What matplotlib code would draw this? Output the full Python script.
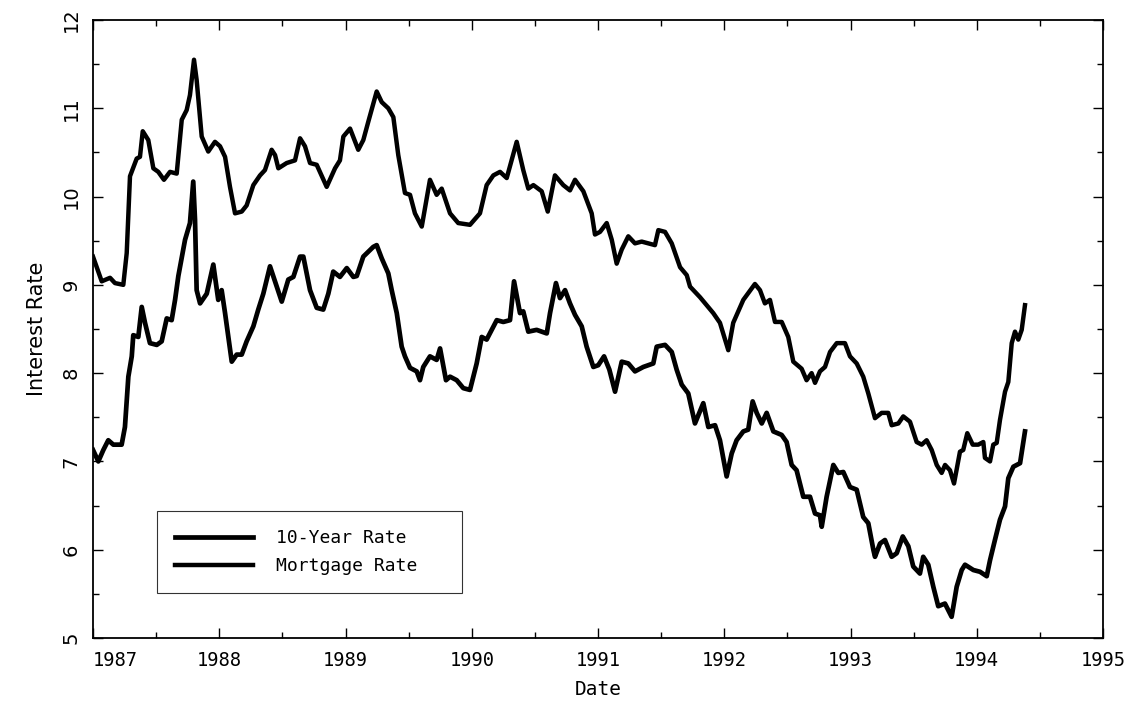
import matplotlib.pyplot as plt
from matplotlib.ticker import MultipleLocator

# weekly rates read as decimal years
tsy_date = [1987.000, 1987.042, 1987.082, 1987.121, 1987.161, 1987.227, 1987.253, 1987.280,
            1987.307, 1987.319, 1987.359, 1987.386, 1987.412, 1987.451, 1987.505, 1987.544,
            1987.584, 1987.623, 1987.650, 1987.676, 1987.729, 1987.768, 1987.794, 1987.808,
            1987.821, 1987.848, 1987.901, 1987.953, 1987.992, 1988.019, 1988.046, 1988.072,
            1988.099, 1988.138, 1988.178, 1988.217, 1988.270, 1988.309, 1988.349, 1988.402,
            1988.455, 1988.495, 1988.547, 1988.587, 1988.640, 1988.666, 1988.719, 1988.772,
            1988.824, 1988.864, 1988.903, 1988.956, 1989.010, 1989.062, 1989.089, 1989.141,
            1989.220, 1989.247, 1989.287, 1989.339, 1989.366, 1989.406, 1989.445, 1989.471,
            1989.511, 1989.564, 1989.590, 1989.616, 1989.669, 1989.722, 1989.749, 1989.796,
            1989.828, 1989.881, 1989.933, 1989.986, 1990.039, 1990.079, 1990.118, 1990.198,
            1990.250, 1990.303, 1990.335, 1990.382, 1990.408, 1990.448, 1990.514, 1990.594,
            1990.620, 1990.667, 1990.699, 1990.739, 1990.778, 1990.818, 1990.871, 1990.910,
            1990.963, 1991.002, 1991.048, 1991.090, 1991.135, 1991.188, 1991.240, 1991.293,
            1991.359, 1991.438, 1991.465, 1991.531, 1991.584, 1991.623, 1991.663, 1991.715,
            1991.768, 1991.834, 1991.874, 1991.927, 1991.966, 1992.019, 1992.059, 1992.098,
            1992.151, 1992.190, 1992.225, 1992.257, 1992.297, 1992.336, 1992.389, 1992.455,
            1992.494, 1992.534, 1992.573, 1992.626, 1992.679, 1992.719, 1992.758, 1992.772,
            1992.811, 1992.864, 1992.903, 1992.943, 1992.996, 1993.049, 1993.101, 1993.141,
            1993.181, 1993.194, 1993.234, 1993.273, 1993.326, 1993.366, 1993.414, 1993.458,
            1993.497, 1993.550, 1993.576, 1993.616, 1993.656, 1993.695, 1993.748, 1993.801,
            1993.841, 1993.881, 1993.907, 1993.973, 1994.026, 1994.079, 1994.105, 1994.144,
            1994.184, 1994.224, 1994.250, 1994.290, 1994.343, 1994.382]
tsy_rate = [7.13, 7.00, 7.13, 7.24, 7.19, 7.19, 7.39, 7.96,
            8.19, 8.43, 8.41, 8.75, 8.57, 8.34, 8.32, 8.36,
            8.62, 8.60, 8.83, 9.10, 9.51, 9.70, 10.17, 9.74,
            8.94, 8.79, 8.90, 9.23, 8.83, 8.94, 8.68, 8.41,
            8.13, 8.21, 8.21, 8.36, 8.53, 8.72, 8.90, 9.21,
            8.98, 8.81, 9.06, 9.09, 9.32, 9.32, 8.94, 8.74,
            8.72, 8.90, 9.15, 9.09, 9.19, 9.09, 9.10, 9.32,
            9.43, 9.45, 9.30, 9.13, 8.94, 8.68, 8.30, 8.19,
            8.06, 8.02, 7.92, 8.07, 8.19, 8.15, 8.28, 7.92,
            7.96, 7.92, 7.83, 7.81, 8.11, 8.41, 8.38, 8.60,
            8.58, 8.60, 9.04, 8.68, 8.70, 8.47, 8.49, 8.45,
            8.68, 9.02, 8.85, 8.94, 8.79, 8.66, 8.53, 8.30,
            8.07, 8.09, 8.19, 8.04, 7.79, 8.13, 8.11, 8.02,
            8.07, 8.11, 8.30, 8.32, 8.24, 8.04, 7.87, 7.77,
            7.43, 7.66, 7.39, 7.41, 7.24, 6.83, 7.09, 7.24,
            7.34, 7.36, 7.68, 7.55, 7.43, 7.55, 7.34, 7.30,
            7.22, 6.96, 6.90, 6.60, 6.60, 6.41, 6.39, 6.26,
            6.60, 6.96, 6.87, 6.88, 6.71, 6.68, 6.37, 6.30,
            6.00, 5.92, 6.07, 6.11, 5.92, 5.96, 6.15, 6.04,
            5.81, 5.73, 5.92, 5.83, 5.58, 5.36, 5.39, 5.24,
            5.58, 5.77, 5.83, 5.77, 5.75, 5.70, 5.88, 6.11,
            6.34, 6.49, 6.81, 6.94, 6.98, 7.34]

mtg_date = [1987.000, 1987.069, 1987.135, 1987.174, 1987.240, 1987.267, 1987.293, 1987.346,
            1987.372, 1987.394, 1987.438, 1987.478, 1987.517, 1987.562, 1987.610, 1987.663,
            1987.703, 1987.742, 1987.768, 1987.800, 1987.821, 1987.861, 1987.913, 1987.966,
            1988.006, 1988.046, 1988.085, 1988.125, 1988.178, 1988.217, 1988.270, 1988.323,
            1988.362, 1988.415, 1988.442, 1988.468, 1988.534, 1988.600, 1988.640, 1988.679,
            1988.719, 1988.772, 1988.851, 1988.917, 1988.956, 1988.983, 1989.036, 1989.101,
            1989.141, 1989.181, 1989.247, 1989.287, 1989.339, 1989.379, 1989.418, 1989.471,
            1989.511, 1989.550, 1989.604, 1989.669, 1989.722, 1989.762, 1989.828, 1989.893,
            1989.986, 1990.065, 1990.118, 1990.171, 1990.224, 1990.277, 1990.356, 1990.408,
            1990.448, 1990.488, 1990.554, 1990.602, 1990.659, 1990.725, 1990.778, 1990.818,
            1990.884, 1990.950, 1990.976, 1991.016, 1991.069, 1991.109, 1991.148, 1991.188,
            1991.240, 1991.293, 1991.346, 1991.451, 1991.478, 1991.531, 1991.584, 1991.650,
            1991.703, 1991.729, 1991.808, 1991.913, 1991.966, 1992.032, 1992.071, 1992.151,
            1992.243, 1992.283, 1992.322, 1992.362, 1992.402, 1992.455, 1992.507, 1992.547,
            1992.613, 1992.652, 1992.692, 1992.719, 1992.758, 1992.798, 1992.838, 1992.891,
            1992.956, 1992.996, 1993.049, 1993.101, 1993.141, 1993.194, 1993.247, 1993.299,
            1993.326, 1993.379, 1993.418, 1993.471, 1993.524, 1993.564, 1993.603, 1993.643,
            1993.683, 1993.722, 1993.749, 1993.788, 1993.820, 1993.867, 1993.893, 1993.925,
            1993.968, 1994.012, 1994.052, 1994.065, 1994.105, 1994.131, 1994.158, 1994.184,
            1994.224, 1994.250, 1994.277, 1994.303, 1994.329, 1994.356, 1994.382]
mtg_rate = [9.32, 9.04, 9.08, 9.02, 9.00, 9.36, 10.23, 10.43,
            10.45, 10.74, 10.64, 10.32, 10.28, 10.19, 10.28, 10.26,
            10.87, 10.98, 11.15, 11.55, 11.32, 10.68, 10.51, 10.62,
            10.57, 10.45, 10.11, 9.81, 9.83, 9.90, 10.13, 10.24,
            10.30, 10.53, 10.47, 10.32, 10.38, 10.41, 10.66, 10.57,
            10.38, 10.36, 10.11, 10.32, 10.41, 10.68, 10.77, 10.53,
            10.64, 10.85, 11.19, 11.07, 11.00, 10.90, 10.47, 10.04,
            10.02, 9.81, 9.66, 10.19, 10.02, 10.09, 9.81, 9.70,
            9.68, 9.81, 10.13, 10.24, 10.28, 10.21, 10.62, 10.30,
            10.09, 10.13, 10.06, 9.83, 10.24, 10.13, 10.07, 10.19,
            10.06, 9.81, 9.57, 9.60, 9.70, 9.51, 9.24, 9.40,
            9.55, 9.47, 9.49, 9.45, 9.62, 9.60, 9.47, 9.20,
            9.11, 8.98, 8.86, 8.68, 8.57, 8.26, 8.57, 8.83,
            9.01, 8.94, 8.79, 8.83, 8.58, 8.58, 8.41, 8.13,
            8.05, 7.92, 8.00, 7.89, 8.02, 8.07, 8.24, 8.34,
            8.34, 8.19, 8.11, 7.96, 7.77, 7.49, 7.55, 7.55,
            7.41, 7.43, 7.51, 7.45, 7.22, 7.19, 7.24, 7.13,
            6.96, 6.87, 6.96, 6.90, 6.75, 7.11, 7.13, 7.32,
            7.19, 7.19, 7.22, 7.04, 7.00, 7.19, 7.21, 7.47,
            7.79, 7.90, 8.34, 8.47, 8.38, 8.49, 8.77]

year_ticks = list(range(1987, 1996))
rate_ticks = list(range(5, 13))

mono = ['DejaVu Sans Mono']
narrow = ['Liberation Sans Narrow', 'DejaVu Sans']
plt.rcParams['font.family'] = mono

fig = plt.figure(figsize=(11.28, 7.04), dpi=100)
ax = fig.add_axes([93 / 1128, 1 - 638 / 704, 1010 / 1128, 618 / 704])

ax.plot(tsy_date, tsy_rate, color='black', lw=3.4, label='10-Year Rate',
        solid_joinstyle='round')
ax.plot(mtg_date, mtg_rate, color='black', lw=3.2, label='Mortgage Rate',
        solid_joinstyle='round')

ax.set_xlim(1987, 1995)
ax.set_ylim(5, 12)
ax.set_xticks(year_ticks)
ax.set_xticklabels([str(y) for y in year_ticks])
ax.xaxis.set_minor_locator(MultipleLocator(0.5))
ax.set_yticks(rate_ticks)
ax.yaxis.set_minor_locator(MultipleLocator(0.5))

ax.tick_params(which='both', direction='in', top=True, right=True, width=1)
ax.tick_params(which='major', length=7)
ax.tick_params(which='minor', length=4)
ax.tick_params(axis='x', pad=9, labelsize=13.5)
ax.tick_params(axis='y', pad=9, labelsize=14)
for lbl in ax.get_yticklabels():
    lbl.set_rotation(90)
    lbl.set_family(narrow)
    lbl.set_va('center')
ax.get_xticklabels()[0].set_ha('left')

for s in ax.spines.values():
    s.set_linewidth(1.3)

ax.set_xlabel('Date', fontsize=14, va='center')
ax.xaxis.set_label_coords(0.5, -0.084)
ax.set_ylabel('Interest Rate', fontsize=15, family=narrow, va='center')
ax.yaxis.set_label_coords(-0.055, 0.5)

leg = ax.legend(loc='lower left', bbox_to_anchor=(0.0634, 0.0728, 0.302, 0.133),
                mode='expand', borderaxespad=0, fancybox=False, edgecolor='black',
                handlelength=4.3, handletextpad=1.3, borderpad=1.0, labelspacing=0.55,
                prop={'family': mono, 'size': 13})
leg.get_frame().set_linewidth(0.8)

fig.savefig('out.png', dpi=100)
